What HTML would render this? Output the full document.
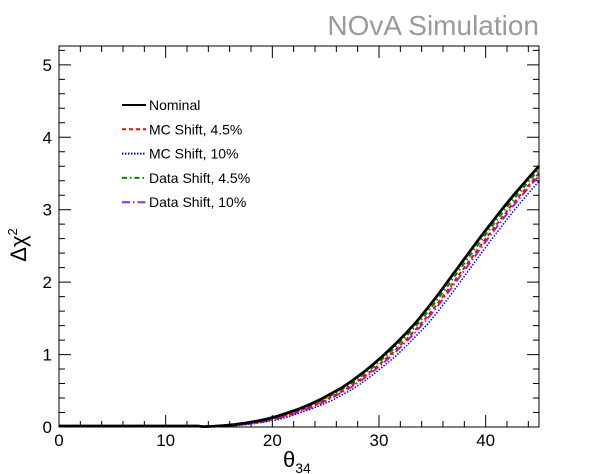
<!DOCTYPE html>
<html><head><meta charset="utf-8"><style>
body{margin:0;background:#fff}
svg{display:block;font-family:"Liberation Sans",sans-serif}
</style></head><body>
<svg id="c" width="598" height="474">
<rect x="0" y="0" width="598" height="474" fill="#fff"/>
<text x="539" y="35" text-anchor="end" font-size="28" fill="#9a9a9a">NOvA Simulation</text>
<g id="axes"></g>
<g id="series"></g>
<rect x="59" y="46" width="480" height="381" fill="none" stroke="#000" stroke-width="1"/>
<text transform="translate(26,245) rotate(-90)" text-anchor="middle" font-size="22">Δχ<tspan dy="-9" font-size="13">2</tspan></text>
<text x="283" y="467" font-size="22">θ<tspan dy="6" font-size="14">34</tspan></text>
<g id="legend" font-size="14"></g>
</svg>
<script>
const xTickLabels=["0","10","20","30","40"];
const xTickValues=[0,10,20,30,40];
const yTickLabels=["0","1","2","3","4","5"];
const yTickValues=[0,1,2,3,4,5];
const binStart=13;
const nominal=[.005,.01,.02,.035,.055,.08,.11,.15,.20,.25,.31,.38,.46,.54,.64,.75,.87,1.00,1.14,1.29,1.45,1.63,1.82,2.02,2.22,2.42,2.62,2.81,3.00,3.18,3.35,3.52];
const mcShift45=[.003,.007,.014,.026,.043,.065,.092,.126,.17,.22,.274,.338,.412,.49,.58,.684,.798,.922,1.056,1.2,1.354,1.522,1.706,1.9,2.1,2.3,2.5,2.696,2.886,3.072,3.248,3.418];
const mcShift10=[0,.004,.009,.018,.032,.051,.075,.10,.14,.19,.24,.30,.36,.44,.52,.62,.73,.85,.97,1.11,1.26,1.41,1.59,1.78,1.98,2.18,2.38,2.58,2.77,2.96,3.14,3.31];
const dataShift45=[.004,.008,.017,.03,.049,.072,.101,.138,.185,.235,.292,.359,.436,.516,.61,.717,.834,.961,1.098,1.245,1.402,1.576,1.763,1.96,2.16,2.36,2.56,2.753,2.943,3.126,3.299,3.469];
const dataShift10=[.002,.006,.012,.023,.039,.06,.086,.118,.16,.21,.262,.324,.396,.476,.56,.662,.774,.896,1.028,1.17,1.322,1.486,1.668,1.86,2.06,2.26,2.46,2.658,2.848,3.036,3.214,3.384];
const seriesNames=["Nominal","MC Shift, 4.5%","MC Shift, 10%","Data Shift, 4.5%","Data Shift, 10%"];

const NS="http://www.w3.org/2000/svg";
const X0=59,X1=539,Y0=427,Y1=46,XMAX=45,YMAX=5.26;
const sx=v=>X0+v/XMAX*(X1-X0);
const sy=v=>Y0-v/YMAX*(Y0-Y1);
function mk(tag,attrs,parent){const e=document.createElementNS(NS,tag);for(const k in attrs)e.setAttribute(k,attrs[k]);parent.appendChild(e);return e;}
const axes=document.getElementById('axes');
for(let v=0;v<=XMAX;v+=2){
  const maj=v%10===0,L=maj?12:6,x=sx(v);
  const t=mk('path',{d:`M${x},${Y0}V${Y0-L}M${x},${Y1}V${Y1+L}`,stroke:'#000','stroke-width':1},axes);
  
  
}
xTickValues.forEach((v,i)=>{
  const t=mk('text',{x:sx(v),y:446,'text-anchor':'middle','font-size':17},axes);
  t.textContent=xTickLabels[i];
  
  
});
for(let k=0;k<=26;k++){
  const v=k*0.2;if(v>YMAX)break;
  const maj=k%5===0,L=maj?12:6,y=sy(v);
  const t=mk('path',{d:`M${X0},${y}H${X0+L}M${X1},${y}H${X1-L}`,stroke:'#000','stroke-width':1},axes);
  
  
}
yTickValues.forEach((v,i)=>{
  const t=mk('text',{x:52,y:sy(v)+6,'text-anchor':'end','font-size':17},axes);
  t.textContent=yTickLabels[i];
  
  
});
const styles=[
 {data:nominal,color:'#000',dash:'',w:2.8,name:'series-nominal'},
 {data:mcShift45,color:'#ff0000',dash:'4,3',w:2,name:'series-mc-shift-4-5'},
 {data:mcShift10,color:'#0000ff',dash:'1.5,1.5',w:1.5,name:'series-mc-shift-10'},
 {data:dataShift45,color:'#008800',dash:'5,3,1.5,3',w:2,name:'series-data-shift-4-5'},
 {data:dataShift10,color:'#8a2be2',dash:'8,3,1.5,3',w:2,name:'series-data-shift-10'}
];
const sg=document.getElementById('series');
styles.slice().reverse().forEach(s=>{
  let d=`M${sx(0)},${sy(0)-1}L${sx(binStart)},${sy(0)-1}`;
  s.data.forEach((v,i)=>{d+=`L${sx(binStart+i+0.5)},${sy(v)}`;});
  d+=`L${sx(XMAX)},${sy(s.data[s.data.length-1])-6}`;
  const p=mk('path',{d:d,fill:'none',stroke:s.color,'stroke-width':s.w,'stroke-dasharray':s.dash},sg);
  
  
});
const lg=document.getElementById('legend');
styles.forEach((s,i)=>{
  const y=105+i*24.3;
  const l=mk('line',{x1:122,x2:146,y1:y,y2:y,stroke:s.color,'stroke-width':2,'stroke-dasharray':s.dash},lg);
  
  
  const t=mk('text',{x:149,y:y+5},lg);
  t.textContent=seriesNames[i];
  
  
});
</script>
</body></html>
